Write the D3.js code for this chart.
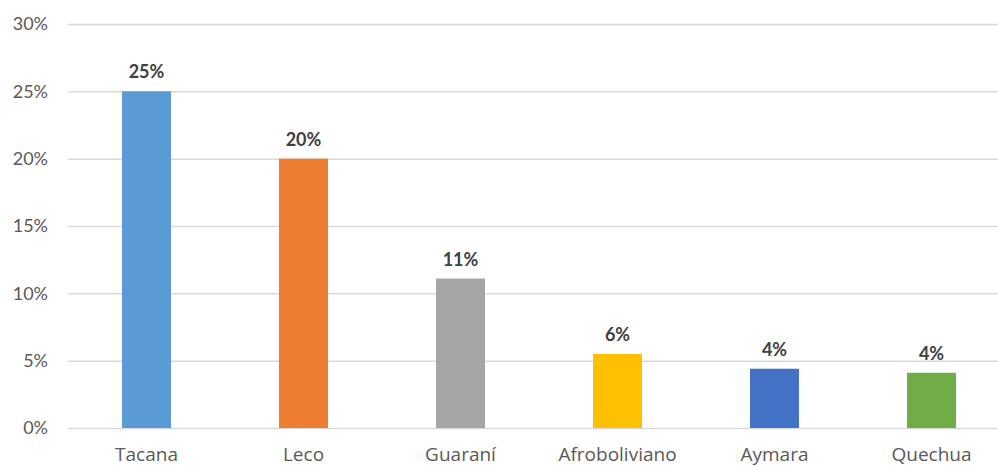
<!DOCTYPE html>
<html>
<head>
<meta charset="utf-8">
<script src="https://cdn.jsdelivr.net/npm/d3@7"></script>
<style>
  body { margin: 0; background: #fff; }
  svg { display: block; font-family: Lato, "Open Sans", sans-serif; }
</style>
</head>
<body>
<div id="chart"></div>
<script>
const groups = ["Tacana", "Leco", "Guaraní", "Afroboliviano", "Aymara", "Quechua"];
const shares = [0.25, 0.20, 0.111, 0.055, 0.044, 0.041];
const labels = ["25%", "20%", "11%", "6%", "4%", "4%"];
const barColors = ["#5B9BD5", "#ED7D31", "#A5A5A5", "#FFC000", "#4472C4", "#70AD47"];
const yTicks = [0, 0.05, 0.10, 0.15, 0.20, 0.25, 0.30];

const width = 998, height = 466;
const marginTop = 24, marginBottom = 38, marginLeft = 68;
const font = "Lato, 'Open Sans', sans-serif";

const x = d3.scaleBand(groups, [marginLeft, 1010])
    .paddingInner(0.688)
    .paddingOuter(0.344);
const y = d3.scaleLinear([0, 0.30], [height - marginBottom, marginTop]);

const svg = d3.select("#chart").append("svg")
    .attr("width", width)
    .attr("height", height)
    .attr("viewBox", [0, 0, width, height]);

// gridlines + y labels
svg.append("g")
    .attr("transform", `translate(${marginLeft},0)`)
    .call(d3.axisLeft(y).tickValues(yTicks).tickFormat(d3.format(".0%")).tickSize(-(1010 - marginLeft)).tickPadding(20))
    .attr("font-family", font)
    .call(g => g.select(".domain").remove())
    .call(g => g.selectAll(".tick line").attr("stroke", "#d9d9d9").attr("stroke-width", 1.5))
    .call(g => g.selectAll(".tick text")
        .attr("fill", "#595959")
        .attr("font-size", 18));

// bars
svg.append("g")
    .selectAll("rect")
    .data(groups)
    .join("rect")
    .attr("x", d => x(d))
    .attr("y", (d, i) => y(shares[i]))
    .attr("width", x.bandwidth())
    .attr("height", (d, i) => y(0) - y(shares[i]))
    .attr("fill", (d, i) => barColors[i]);

// value labels
svg.append("g")
    .selectAll("text")
    .data(groups)
    .join("text")
    .attr("x", d => x(d) + x.bandwidth() / 2)
    .attr("y", (d, i) => y(shares[i]) - 13)
    .attr("text-anchor", "middle")
    .attr("font-size", 18)
    .attr("font-weight", "bold")
    .attr("fill", "#404040")
    .text((d, i) => labels[i]);

// x labels
svg.append("g")
    .attr("transform", `translate(0,${height - marginBottom})`)
    .call(d3.axisBottom(x).tickSize(0).tickPadding(20))
    .attr("font-family", "'Open Sans', Lato, sans-serif")
    .call(g => g.select(".domain").remove())
    .call(g => g.selectAll(".tick text")
        .attr("fill", "#595959")
        .attr("font-size", 19));
</script>
</body>
</html>
